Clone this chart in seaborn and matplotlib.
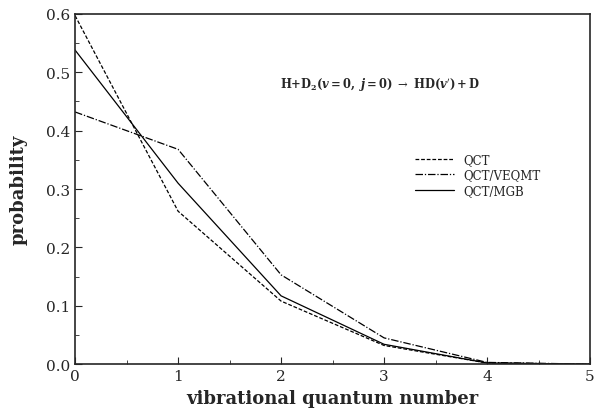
import pandas as pd
import matplotlib.pyplot as plt
import seaborn as sns
from matplotlib.ticker import MultipleLocator

# Data
v_prime = [0, 1, 2, 3, 4, 5]
qct = [0.597, 0.262, 0.108, 0.032, 0.002, 0.0]
qct_veqmt = [0.432, 0.368, 0.153, 0.045, 0.003, 0.0]
qct_mgb = [0.538, 0.310, 0.117, 0.034, 0.002, 0.0]

df = pd.DataFrame({
    'v': v_prime * 3,
    'probability': qct + qct_veqmt + qct_mgb,
    'method': ['QCT'] * 6 + ['QCT/VEQMT'] * 6 + ['QCT/MGB'] * 6,
})

sns.set_style("ticks")
plt.rcParams['font.family'] = ['DejaVu Serif']
plt.rcParams['mathtext.fontset'] = 'dejavuserif'

fig = plt.figure(figsize=(5.96, 4.14), dpi=100)
ax = fig.add_axes([0.126, 0.118, 0.864, 0.846])

styles = {'QCT': (0, (3, 1.5)), 'QCT/VEQMT': (0, (6, 1.5, 1, 1.5)), 'QCT/MGB': '-'}
for name in ['QCT', 'QCT/VEQMT', 'QCT/MGB']:
    sub = df[df['method'] == name]
    sns.lineplot(x='v', y='probability', data=sub, ax=ax, color='black',
                 linewidth=0.9, linestyle=styles[name], label=name)

ax.set_xlim(0, 5)
ax.set_ylim(0, 0.6)
ax.xaxis.set_major_locator(MultipleLocator(1))
ax.xaxis.set_minor_locator(MultipleLocator(0.5))
ax.yaxis.set_major_locator(MultipleLocator(0.1))
ax.yaxis.set_minor_locator(MultipleLocator(0.05))
ax.yaxis.set_major_formatter(plt.FormatStrFormatter('%.1f'))
ax.tick_params(which='both', direction='in', top=False, right=False, labelsize=11)
ax.tick_params(which='major', length=5)
ax.tick_params(which='minor', length=3)
for s in ax.spines.values():
    s.set_linewidth(1.2)

ax.set_xlabel('vibrational quantum number', fontsize=13, fontweight='bold')
ax.set_ylabel('probability', fontsize=13, fontweight='bold')
ax.yaxis.set_label_coords(-0.092, 0.5)

ax.text(1.99, 0.48, r"$\mathbf{H{+}D_2(}\boldsymbol{v}\mathbf{=0,\ }\boldsymbol{j}\mathbf{=0)}"
        r"\ \rightarrow\ \mathbf{HD(}\boldsymbol{v}\mathbf{')+D}$",
        fontsize=8.3, ha='left', va='center')

ax.legend(loc='center left', bbox_to_anchor=(0.64, 0.54), frameon=False,
          fontsize=8.5, handlelength=3.3, labelspacing=0.2)

fig.savefig('out.png', dpi=100)
